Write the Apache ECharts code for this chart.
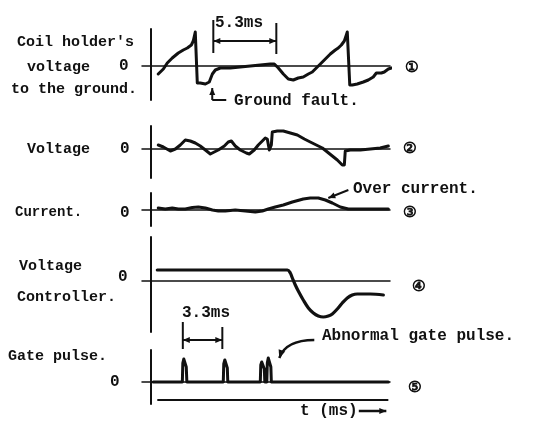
<!DOCTYPE html>
<html><head><meta charset="utf-8">
<script src="https://cdn.jsdelivr.net/npm/echarts@6/dist/echarts.min.js"></script>
<style>html,body{margin:0;padding:0;background:#fff}#c{width:540px;height:421px}</style>
</head><body><div id="c"></div>
<script>
// ---- data (time in ms, amplitude in arbitrary divisions) ----
const t1 = [0.67,1.10,1.43,1.85,2.36,2.78,3.12,3.46,3.62,3.79,3.88,3.96,4.21,4.64,4.97,5.23,5.48,5.90,6.74,7.58,8.43,9.27,10.11,10.45,10.79,11.21,11.63,12.05,12.47,12.89,13.32,13.65,13.99,14.33,14.75,15.17,15.59,15.84,16.10,16.35,16.52,16.60,16.73,16.81,17.02,17.44,17.95,18.37,18.79,19.05,19.21,19.47,19.72,20.06,20.31];
const v1 = [-8,-3,3,8,13,16,18,21,25,34,33,-17,-17,-18,-16,-8,-4,-2,-2,-1,0,1,2,2,-2,-8,-13,-14,-12,-11,-8,-6,-2,2,7,12,16,18,21,25,31,34,33,-19,-19,-18,-16,-14,-11,-7,-6,-7,-6,-3,-2];

const t2 = [0.67,1.10,1.69,2.11,2.53,2.95,3.37,3.79,4.21,4.64,5.06,5.39,5.73,6.24,6.57,6.83,7.16,7.58,8.09,8.34,8.76,9.10,9.44,9.69,9.86,10.03,10.20,10.28,10.70,11.21,11.80,12.39,12.98,13.48,13.99,14.50,14.92,15.34,15.76,16.18,16.35,16.43,16.85,17.70,18.54,19.38,20.06];
const v2 = [4,2,-2,0,4,9,8,6,3,-1,-5,-3,-1,3,7,8,3,-1,-4,-5,-1,4,8,11,10,-1,4,17,18,18,16,14,10,7,4,1,-3,-7,-11,-16,-16,-2,-1,-1,0,1,3];

const t3 = [0.67,1.26,1.85,2.36,2.95,3.54,4.05,4.64,5.23,5.73,6.32,7.16,8.01,8.85,9.44,9.94,10.53,11.21,11.97,12.89,13.48,14.16,14.75,15.34,16.01,16.69,17.70,18.96,20.06];
const v3 = [2,1,2,1,1,2.5,3,2,0,-1,-1,0,-1,-2,-1,1,3,5,8,11,12,12,10,7,3,1,1,1,1];

const t4 = [0.59,4.21,8.43,11.55,11.80,11.97,12.22,12.47,12.89,13.32,13.74,14.16,14.58,15.00,15.34,15.76,16.18,16.60,17.02,17.44,17.87,18.54,19.64];
const v4 = [11,11,11,11,8,3,-4,-10,-19,-27,-32,-35,-36,-35,-33,-28,-22,-17,-14,-13,-13,-13,-14];

const t5 = [0.25,2.70,2.74,2.82,2.95,3.03,3.08,6.15,6.19,6.28,6.40,6.49,6.53,9.27,9.31,9.39,9.52,9.61,9.65,9.82,9.86,9.94,10.07,10.16,10.20,20.06];
const v5 = [0,0,19,23,22,15,0,0,18,22,21,14,0,0,17,20,19,13,0,0,19,24,23,15,0,0];

// bracket markers (ms)
const bracket53 = [5.31, 10.62];
const bracket33 = [2.74, 6.07];

// y extents of each panel (divisions)
const yMin = [-34,-29,-16,-51,-22];
const yMax = [37,23,17,44,32];
const xMin = -0.7, xMax = 20.2;

// ---- layout ----
const grids = [
  {top:29,height:71},{top:126,height:52},{top:193,height:33},{top:237,height:95},{top:350,height:54}
].map(g => Object.assign({left:142,right:150},g));

const INK = '#111';
const FONT = '"Liberation Mono", "DejaVu Sans Mono", monospace';

const xAxes = grids.map((g,i)=>({gridIndex:i,type:'value',min:xMin,max:xMax,
  axisLine:{show:true,onZero:true,lineStyle:{color:INK,width:1.5}},
  axisTick:{show:false},axisLabel:{show:false},splitLine:{show:false}}));
const yAxes = grids.map((g,i)=>({gridIndex:i,type:'value',min:yMin[i],max:yMax[i],
  axisLine:{show:true,onZero:true,lineStyle:{color:INK,width:2}},
  axisTick:{show:false},axisLabel:{show:false},splitLine:{show:false}}));

function wave(i,t,v,w){
  return {type:'line',xAxisIndex:i,yAxisIndex:i,data:t.map((x,k)=>[x,v[k]]),
    showSymbol:false,symbol:'none',clip:false,smooth:false,
    lineStyle:{color:INK,width:w||3,join:'round',cap:'round'},silent:true};
}

function head(tip, from, len, wid){
  const dx = tip[0]-from[0], dy = tip[1]-from[1];
  const d = Math.sqrt(dx*dx+dy*dy)||1;
  const ux = dx/d, uy = dy/d;
  const bx = tip[0]-ux*len, by = tip[1]-uy*len;
  return {type:'polygon',shape:{points:[tip,[bx-uy*wid,by+ux*wid],[bx+uy*wid,by-ux*wid]]},style:{fill:INK}};
}

// annotations: segs [t1,v1,t2,v2]; arrows [t1,v1,t2,v2,headStart,headEnd]; curves [t1,v1,tc,vc,t2,v2]
function annot(i, segs, arrows, curves){
  return {type:'custom',xAxisIndex:i,yAxisIndex:i,data:[[0,0]],clip:false,silent:true,
    renderItem:(params,api)=>{
      const ch=[];
      (segs||[]).forEach(s=>{
        const a=api.coord([s[0],s[1]]), b=api.coord([s[2],s[3]]);
        ch.push({type:'line',shape:{x1:a[0],y1:a[1],x2:b[0],y2:b[1]},style:{stroke:INK,lineWidth:s[4]||2}});
      });
      (arrows||[]).forEach(s=>{
        const a=api.coord([s[0],s[1]]), b=api.coord([s[2],s[3]]);
        ch.push({type:'line',shape:{x1:a[0],y1:a[1],x2:b[0],y2:b[1]},style:{stroke:INK,lineWidth:s[6]||2}});
        if(s[4]) ch.push(head(a,b,7,3));
        if(s[5]) ch.push(head(b,a,7,3));
      });
      (curves||[]).forEach(s=>{
        const a=api.coord([s[0],s[1]]), c=api.coord([s[2],s[3]]), b=api.coord([s[4],s[5]]);
        ch.push({type:'bezierCurve',shape:{x1:a[0],y1:a[1],cpx1:c[0],cpy1:c[1],x2:b[0],y2:b[1]},style:{stroke:INK,lineWidth:2.5,fill:null}});
        ch.push(head(b,c,8,3.5));
      });
      return {type:'group',children:ch};
    }};
}

const series = [
  wave(0,t1,v1,3), wave(1,t2,v2,3), wave(2,t3,v3,3),
  Object.assign(wave(3,t4,v4,3.2),{smooth:0.35}),
  wave(4,t5,v5,3),
  annot(0,
    [[bracket53[0],46,bracket53[0],13],[bracket53[1],43,bracket53[1],12],[5.22,-34,6.4,-34]],
    [[bracket53[0],25,bracket53[1],25,1,1],[5.22,-34,5.22,-22,0,1]]),
  annot(2,[],[[16.69,20,15.0,12,0,1]]),
  annot(4,
    [[bracket33[0],60,bracket33[0],33],[bracket33[1],55,bracket33[1],33],[0.59,-18,20.06,-18,2]],
    [[bracket33[0],42,bracket33[1],42,1,1],[17.57,-29,19.89,-29,0,1,2.5]],
    [[13.82,42,11.4,42,10.87,24]])
];

// ---- texts ----
const labels = [
  ["Coil holder's",17,42,15],["voltage",27,67,15],["to the ground.",11,89,15],["0",119,66,16],
  ["Voltage",27,149,15],["0",120,149,16],
  ["Current.",15,212,14],["0",120,213,16],
  ["Voltage",19,266,15],["0",118,277,16],["Controller.",17,297,15],
  ["Gate pulse.",8,356,15],["0",110,382,16],
  ["5.3ms",215,23,16],["Ground fault.",234,101,16],["Over current.",353,189,16],
  ["3.3ms",182,313,16],["Abnormal gate pulse.",322,336,16],["t (ms)",300,411,16]
];
const circles = [["①",405,68],["②",403,149],["③",403,213],["④",412,287],["⑤",408,388]];

const graphic = labels.map(l=>({type:'text',x:l[1],y:l[2],silent:true,
  style:{text:l[0],fill:INK,font:'bold '+l[3]+'px '+FONT,align:'left',verticalAlign:'middle'}}))
 .concat(circles.map(c=>({type:'text',x:c[1],y:c[2],silent:true,
  style:{text:c[0],fill:INK,stroke:INK,lineWidth:0.8,font:'15px "DejaVu Sans", "Noto Sans CJK JP", sans-serif',align:'left',verticalAlign:'middle'}})));

const chart = echarts.init(document.getElementById('c'),null,{renderer:'canvas'});
chart.setOption({backgroundColor:'#fff',animation:false,grid:grids,xAxis:xAxes,yAxis:yAxes,series:series,graphic:graphic});
</script></body></html>
